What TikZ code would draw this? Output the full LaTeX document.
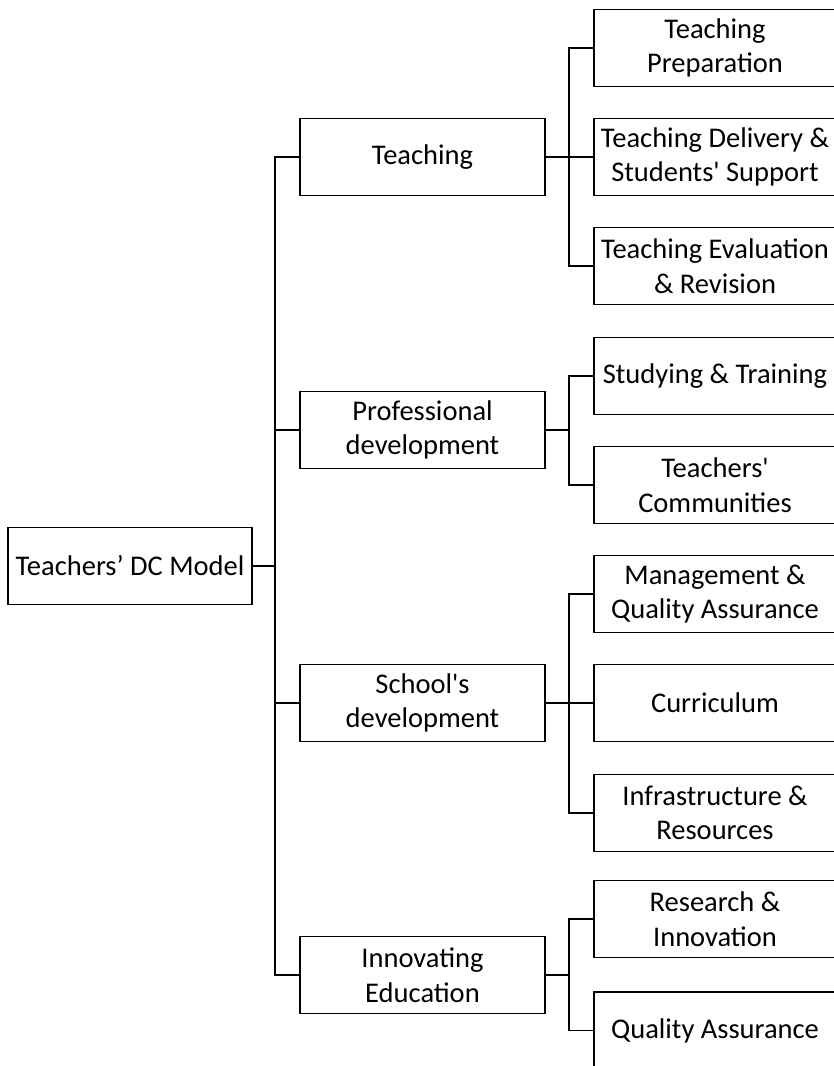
\documentclass[tikz,border=0pt]{standalone}
\usepackage{fontspec}
\setmainfont{Carlito}
\begin{document}
\begin{tikzpicture}[x=1pt,y=1pt,
  box/.style={draw, line width=1.8pt, inner sep=0pt, align=center,
    minimum height=77pt, font=\fontsize{28.5}{34.5}\selectfont},
  rootbox/.style={box, minimum width=244pt},
  lonebox/.style={box, minimum width=245pt},
  ltwobox/.style={box, minimum width=242pt},
  conn/.style={line width=1.8pt},
  thickconn/.style={line width=2.6pt}]
\useasboundingbox (0,0) rectangle (834,-1066);
\clip (0,0) rectangle (834,-1066);
\fill[white] (0,0) rectangle (834,-1066);
% root
\node[rootbox] (root) at (130,-566) {Teachers’ DC Model};
% level 1
\node[lonebox] (teach) at (422.5,-157) {Teaching};
\node[lonebox] (prof) at (422.5,-430) {Professional\\development};
\node[lonebox] (school) at (422.5,-703) {School\textquotesingle s\\development};
\node[lonebox] (innov) at (422.5,-975) {Innovating\\Education};
% level 2
\node[ltwobox] (tp) at (715,-48) {Teaching\\Preparation};
\node[ltwobox] (td) at (715,-157) {Teaching Delivery \&\\Students\textquotesingle\ Support};
\node[ltwobox] (te) at (715,-266) {Teaching Evaluation\\\& Revision};
\node[ltwobox] (st) at (715,-376) {Studying \& Training};
\node[ltwobox] (tc) at (715,-485) {Teachers\textquotesingle\\Communities};
\node[ltwobox] (mq) at (715,-594) {Management \&\\Quality Assurance};
\node[ltwobox] (cu) at (715,-703) {Curriculum};
\node[ltwobox] (ir) at (715,-813) {Infrastructure \&\\Resources};
\node[ltwobox] (ri) at (715,-919) {Research \&\\Innovation};
\node[ltwobox] (qa) at (715,-1030.5) {Quality Assurance};
% root connectors
\coordinate (T) at (275,-566);
\draw[thickconn] (root.east) -- (T);
\draw[conn] (T) |- (teach.west);
\draw[conn] (T) |- (prof.west);
\draw[conn] (T) |- (school.west);
\draw[conn] (T) |- (innov.west);
% teaching
\coordinate (t1) at (569,-157);
\draw[thickconn] (teach.east) -- (t1);
\draw[conn] (t1) |- (tp.west);
\draw[conn] (t1) |- (td.west);
\draw[conn] (t1) |- (te.west);
% professional
\coordinate (p1) at (569,-430);
\draw[thickconn] (prof.east) -- (p1);
\draw[conn] (p1) |- (st.west);
\draw[conn] (p1) |- (tc.west);
% school
\coordinate (s1) at (569,-703);
\draw[thickconn] (school.east) -- (s1);
\draw[conn] (s1) |- (mq.west);
\draw[conn] (s1) |- (cu.west);
\draw[conn] (s1) |- (ir.west);
% innovating
\coordinate (i1) at (569,-975);
\draw[thickconn] (innov.east) -- (i1);
\draw[conn] (i1) |- (ri.west);
\draw[conn] (i1) |- (qa.west);
\end{tikzpicture}
\end{document}
